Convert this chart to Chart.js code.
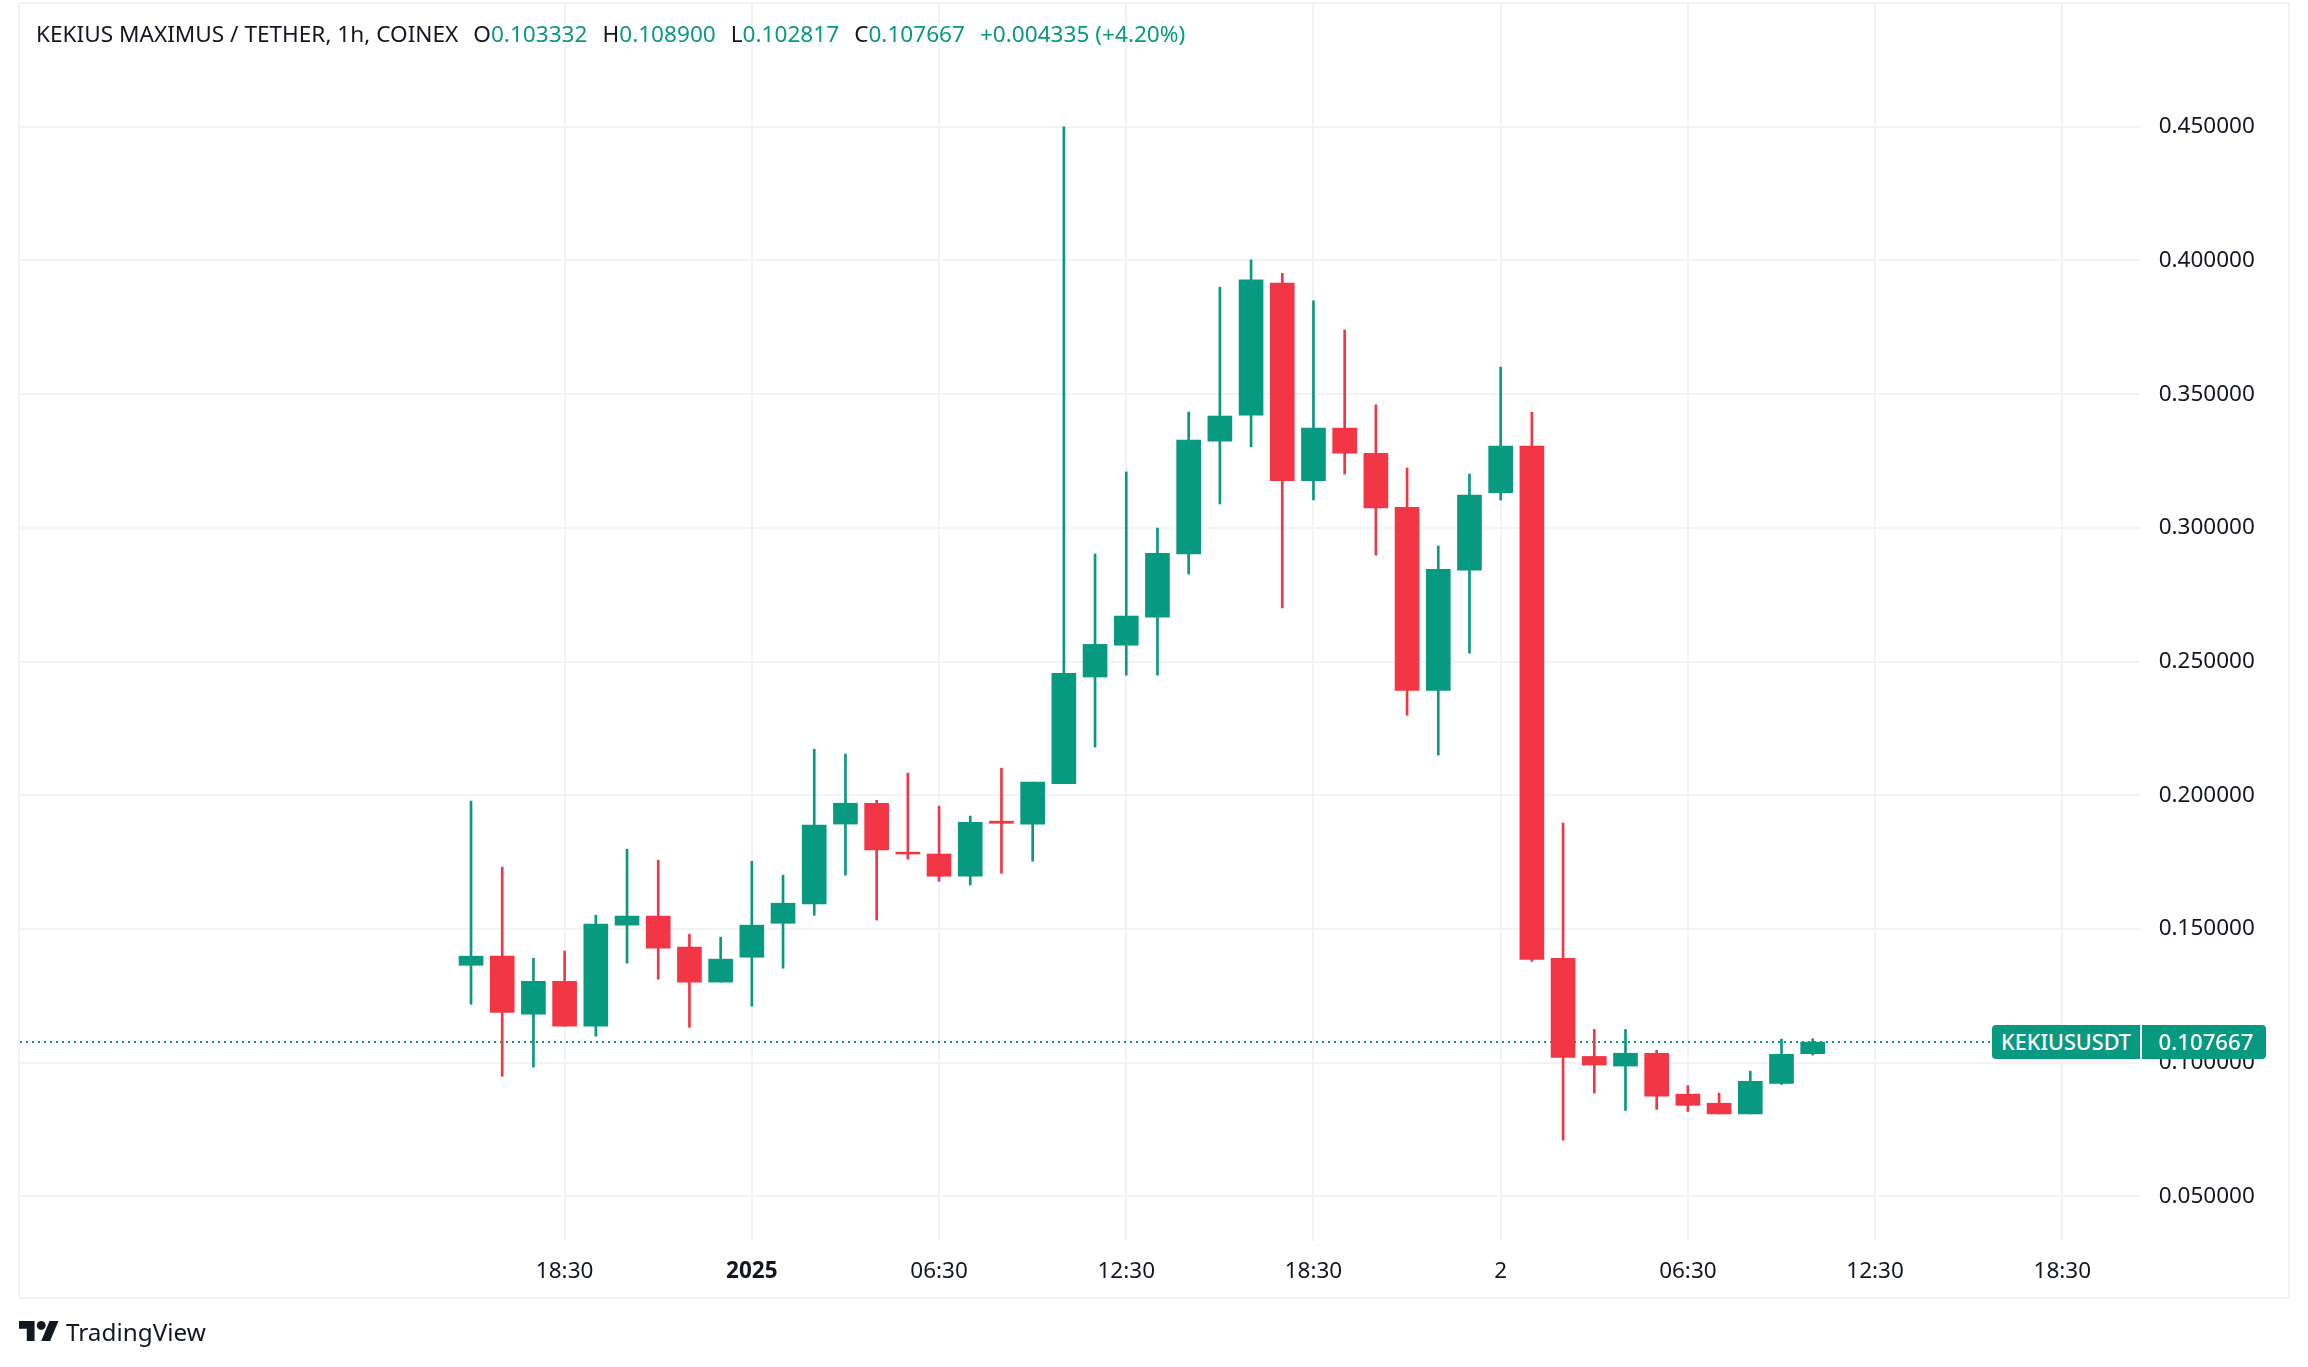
<!DOCTYPE html>
<html>
<head>
<meta charset="utf-8">
<style>
  html, body { margin: 0; padding: 0; background: #fff; width: 2308px; height: 1367px; overflow: hidden; font-family: "Noto Sans", sans-serif; color: #131722; }
  .pane { position: absolute; left: 18px; top: 2px; width: 2268px; height: 1293px; border: 2px solid #f0f3fa; }
  canvas { position: absolute; left: 0; top: 0; }
  .legend { position: absolute; left: 36px; top: 18px; font-size: 22.6px; line-height: 31px; white-space: pre; }
  .legend b { font-weight: 400; color: #089981; }
  .legend span { margin-left: 15px; }
  .tag { position: absolute; height: 34px; line-height: 33px; background: #089981; color: #fff; font-size: 21.6px; font-weight: 500; text-align: center; box-sizing: border-box; }
  .logo { position: absolute; left: 19px; top: 1321px; }
  .brand { position: absolute; left: 66px; top: 1314px; font-size: 24.3px; line-height: 36px; }
</style>
</head>
<body>
<div class="pane"></div>
<canvas class="my-chart" width="2308" height="1367"></canvas>
<div class="legend">KEKIUS MAXIMUS / TETHER, 1h, COINEX<span>O<b>0.103332</b></span><span>H<b>0.108900</b></span><span>L<b>0.102817</b></span><span>C<b>0.107667</b></span><span><b>+0.004335 (+4.20%)</b></span></div>
<div class="tag" id="tagName" style="left:1992px;width:148px;border-radius:4px 0 0 4px">KEKIUSUSDT</div>
<div class="tag" id="tagPrice" style="left:2142px;width:124px;padding-left:4px;font-size:22.2px;border-radius:0 4px 4px 0">0.107667</div>
<svg class="logo" width="40" height="20" viewBox="0 4 36 18"><path fill="#131722" d="M14 22H7V11H0V4h14v18zM28 22h-8l7.5-18h8L28 22z"/><circle fill="#131722" cx="20" cy="8" r="4"/></svg>
<div class="brand">TradingView</div>
<script src="https://cdn.jsdelivr.net/npm/chart.js@4"></script>
<script>
const up = "#089981";
const down = "#f23645";
const gridColor = "#f3f3f5";
const textFont = "'Noto Sans', sans-serif";

// hourly candles, [open, high, low, close]
const candles = [
    [0.1364, 0.1978, 0.1218, 0.1398],
    [0.1398, 0.1731, 0.0949, 0.1188],
    [0.1181, 0.1390, 0.0983, 0.1304],
    [0.1304, 0.1417, 0.1136, 0.1136],
    [0.1136, 0.1551, 0.1099, 0.1518],
    [0.1514, 0.1798, 0.1372, 0.1548],
    [0.1548, 0.1757, 0.1312, 0.1428],
    [0.1432, 0.1480, 0.1132, 0.1301],
    [0.1301, 0.1469, 0.1301, 0.1387],
    [0.1394, 0.1753, 0.1211, 0.1514],
    [0.1521, 0.1701, 0.1353, 0.1596],
    [0.1593, 0.2172, 0.1551, 0.1888],
    [0.1892, 0.2154, 0.1701, 0.1970],
    [0.1970, 0.1981, 0.1533, 0.1795],
    [0.1787, 0.2083, 0.1761, 0.1780],
    [0.1780, 0.1959, 0.1678, 0.1697],
    [0.1697, 0.1922, 0.1664, 0.1899],
    [0.1903, 0.2101, 0.1708, 0.1895],
    [0.1892, 0.2049, 0.1753, 0.2049],
    [0.2043, 0.4500, 0.2043, 0.2456],
    [0.2442, 0.2902, 0.2180, 0.2564],
    [0.2561, 0.3209, 0.2449, 0.2670],
    [0.2666, 0.2999, 0.2449, 0.2905],
    [0.2902, 0.3433, 0.2827, 0.3328],
    [0.3324, 0.3900, 0.3089, 0.3418],
    [0.3421, 0.4002, 0.3303, 0.3927],
    [0.3915, 0.3952, 0.2700, 0.3176],
    [0.3176, 0.3849, 0.3104, 0.3373],
    [0.3373, 0.3740, 0.3201, 0.3279],
    [0.3279, 0.3460, 0.2898, 0.3074],
    [0.3077, 0.3224, 0.2299, 0.2392],
    [0.2392, 0.2932, 0.2150, 0.2845],
    [0.2842, 0.3201, 0.2531, 0.3122],
    [0.3131, 0.3601, 0.3104, 0.3306],
    [0.3306, 0.3432, 0.1378, 0.1386],
    [0.1390, 0.1896, 0.0710, 0.1019],
    [0.1023, 0.1124, 0.0886, 0.0991],
    [0.0987, 0.1124, 0.0821, 0.1035],
    [0.1035, 0.1046, 0.0825, 0.0874],
    [0.0882, 0.0914, 0.0817, 0.0840],
    [0.0848, 0.0886, 0.0808, 0.0808],
    [0.0808, 0.0968, 0.0808, 0.0930],
    [0.0922, 0.1088, 0.0918, 0.1031],
    [0.103332, 0.1089, 0.102817, 0.107667],
];

const timeTicks = { 3: "18:30", 9: "2025", 15: "06:30", 21: "12:30", 27: "18:30", 33: "2", 39: "06:30", 45: "12:30", 51: "18:30" };
const priceTicks = [0.05, 0.10, 0.15, 0.20, 0.25, 0.30, 0.35, 0.40, 0.45];
const lastClose = candles[candles.length - 1][3];
const xMin = -14.455;
const xMax = 53.49;

const candleColor = (c) => (c[3] >= c[0] ? up : down);
const colors = candles.map(candleColor);

const myChart = document.querySelector(".my-chart");
const chart = new Chart(myChart, {
    data: {
        datasets: [
            {
                type: "line",
                label: "Last price",
                data: [{ x: xMin, y: lastClose }, { x: 48.69, y: lastClose }],
                borderColor: up,
                borderWidth: 2,
                borderDash: [2, 4],
                pointRadius: 0,
                order: 3,
            },
            {
                type: "bar",
                label: "Wick",
                data: candles.map((c, i) => ({ x: i, y: [c[2], c[1]] })),
                backgroundColor: colors,
                barThickness: 2,
                grouped: false,
                order: 2,
            },
            {
                type: "bar",
                label: "Body",
                data: candles.map((c, i) => ({ x: i, y: [c[0], c[3]] })),
                backgroundColor: colors,
                barThickness: 24,
                grouped: false,
                order: 1,
            },
        ],
    },
    options: {
        responsive: false,
        animation: false,
        devicePixelRatio: 1,
        layout: { padding: { left: 20, right: 20, top: 4, bottom: 70 } },
        plugins: { legend: { display: false }, tooltip: { enabled: false } },
        scales: {
            x: {
                type: "linear",
                min: xMin,
                max: xMax,
                offset: false,
                afterBuildTicks: (scale) => {
                    scale.ticks = Object.keys(timeTicks).map((k) => ({ value: +k }));
                },
                afterFit: (scale) => {
                    scale.height = 56;
                    scale.paddingLeft = 0;
                    scale.paddingRight = 0;
                },
                border: { display: false },
                grid: { color: gridColor, lineWidth: 2, drawTicks: false, offset: false },
                ticks: {
                    autoSkip: false,
                    maxRotation: 0,
                    padding: 17,
                    color: "#131722",
                    font: (ctx) => ({ family: textFont, size: 22.5, weight: ctx.tick && ctx.tick.value === 9 ? "bold" : "normal" }),
                    callback: (v) => timeTicks[v],
                },
            },
            y: {
                position: "right",
                min: 0.03328,
                max: 0.4959,
                afterBuildTicks: (scale) => {
                    scale.ticks = priceTicks.map((v) => ({ value: v }));
                },
                afterFit: (scale) => {
                    scale.width = 148;
                    scale.paddingTop = 0;
                    scale.paddingBottom = 0;
                },
                border: { display: false },
                grid: { color: gridColor, lineWidth: 2, drawTicks: false },
                ticks: {
                    padding: 18.7,
                    color: "#131722",
                    font: { family: textFont, size: 22.5 },
                    callback: (v) => v.toFixed(6),
                },
            },
        },
    },
});

// last price tags sit on the close
const tagTop = chart.scales.y.getPixelForValue(lastClose) - 17;
document.getElementById("tagName").style.top = tagTop + "px";
document.getElementById("tagPrice").style.top = tagTop + "px";
</script>
</body>
</html>
